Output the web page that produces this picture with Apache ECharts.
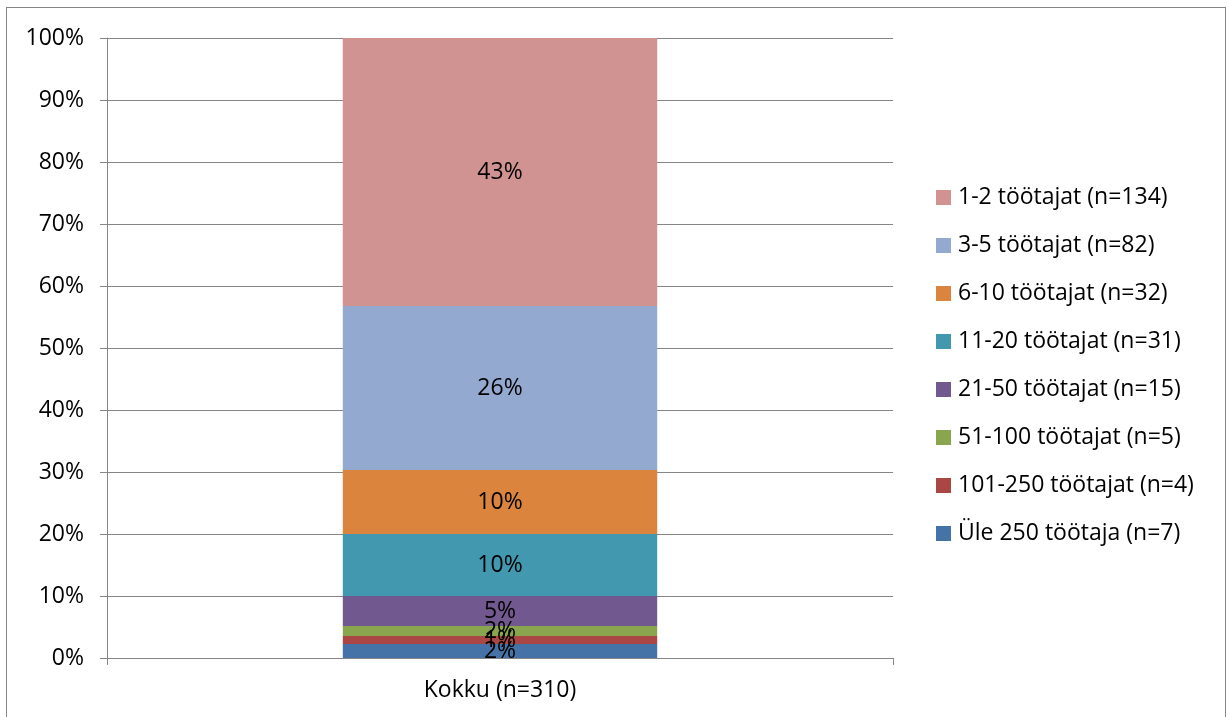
<!DOCTYPE html>
<html>
<head>
<meta charset="utf-8">
<script src="https://cdn.jsdelivr.net/npm/echarts@6/dist/echarts.min.js"></script>
<style>
  html, body { margin: 0; padding: 0; background: #fff; }
  #frame { position: absolute; left: 6px; top: 7px; width: 1220px; height: 720px; border: 1px solid #868686; box-sizing: border-box; }
  #chart { position: absolute; left: 0; top: 0; width: 1229px; height: 717px; }
</style>
</head>
<body>
<div id="frame"></div>
<div id="chart"></div>
<script>
// kategooria ja seeriad (alt üles)
const categories = ['Kokku (n=310)'];
const seriesNames = [
  'Üle 250 töötaja (n=7)',
  '101-250 töötajat (n=4)',
  '51-100 töötajat (n=5)',
  '21-50 töötajat (n=15)',
  '11-20 töötajat (n=31)',
  '6-10 töötajat (n=32)',
  '3-5 töötajat (n=82)',
  '1-2 töötajat (n=134)'
];
const counts = [7, 4, 5, 15, 31, 32, 82, 134];
const colors = ['#4572a7', '#aa4643', '#89a54e', '#71588f', '#4198af', '#db843d', '#93a9cf', '#d19392'];
const yTicks = [0, 10, 20, 30, 40, 50, 60, 70, 80, 90, 100];

const total = counts.reduce((a, b) => a + b, 0);
const font = "'Open Sans', 'Liberation Sans', sans-serif";
const fs = 23;

const chart = echarts.init(document.getElementById('chart'));

chart.setOption({
  animation: false,
  textStyle: { fontFamily: font },
  grid: { left: 107, right: 336, top: 38, bottom: 59 },
  legend: {
    orient: 'vertical',
    left: 931,
    top: 181,
    itemWidth: 15,
    itemHeight: 15,
    itemGap: 25,
    icon: 'rect',
    data: seriesNames.slice().reverse(),
    textStyle: { fontSize: fs, color: '#000', fontFamily: font, padding: [0, 0, 0, 2] }
  },
  xAxis: {
    type: 'category',
    data: categories,
    axisLine: { lineStyle: { color: '#868686' } },
    axisTick: { show: true, length: 7, lineStyle: { color: '#868686' } },
    axisLabel: { fontSize: fs, color: '#000', margin: 21 }
  },
  yAxis: {
    type: 'value',
    min: yTicks[0],
    max: yTicks[yTicks.length - 1],
    interval: 10,
    axisLine: { show: true, lineStyle: { color: '#868686' } },
    axisTick: { show: true, length: 7, lineStyle: { color: '#868686' } },
    axisLabel: { formatter: '{value}%', fontSize: fs, color: '#000', margin: 23 },
    splitLine: { lineStyle: { color: '#868686' } }
  },
  series: seriesNames.map((name, i) => ({
    name: name,
    type: 'bar',
    stack: 'kokku',
    barWidth: '40%',
    itemStyle: { color: colors[i] },
    label: {
      show: true,
      position: 'inside',
      fontSize: fs,
      color: '#000',
      formatter: () => Math.round(counts[i] / total * 100) + '%'
    },
    data: [counts[i] / total * 100]
  }))
});
</script>
</body>
</html>
